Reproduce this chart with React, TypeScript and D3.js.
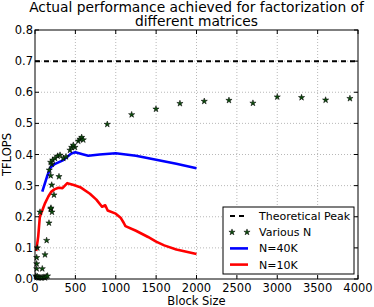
import * as d3 from "d3";

// N=40K curve: block size vs TFLOPS
const blueX = [90, 150, 194, 250, 351, 450, 500, 600, 660, 800, 1000, 1250, 1500, 1750, 2000];
const blueY = [0.281, 0.33, 0.359, 0.37, 0.382, 0.403, 0.407, 0.4, 0.396, 0.4, 0.404, 0.396, 0.383, 0.37, 0.356];

// N=10K curve
const redX = [15, 40, 60, 85, 125, 165, 200, 240, 290, 340, 400, 480, 560, 680, 760, 830, 870, 900, 1000, 1060, 1100, 1120, 1250, 1400, 1500, 1600, 1750, 2000];
const redY = [0.09, 0.137, 0.2, 0.217, 0.244, 0.265, 0.28, 0.288, 0.293, 0.292, 0.308, 0.302, 0.295, 0.274, 0.255, 0.232, 0.237, 0.22, 0.21, 0.197, 0.18, 0.17, 0.155, 0.135, 0.12, 0.108, 0.095, 0.08];

// Various N scatter
const starX = [
  10, 20, 30, 45, 60, 75, 90, 110, 125, 140, 155,
  21, 21, 21, 29, 90, 124, 144, 173, 62, 194, 210, 198, 235,
  207, 297, 194, 177, 207, 194, 219, 248, 281, 310, 351, 384,
  433, 454, 495, 474, 536, 557, 578, 598,
  895, 1197, 1498, 1795, 2096, 2402, 2699, 3000, 3301, 3599, 3900,
];
const starY = [
  0.01, 0.005, 0.008, 0.004, 0.005, 0.004, 0.005, 0.006, 0.004, 0.008, 0.01,
  0.033, 0.049, 0.069, 0.1, 0.033, 0.078, 0.124, 0.18, 0.215, 0.225, 0.215, 0.228, 0.27,
  0.302, 0.329, 0.332, 0.35, 0.369, 0.375, 0.382, 0.388, 0.395, 0.398, 0.388, 0.393,
  0.414, 0.423, 0.423, 0.43, 0.443, 0.449, 0.455, 0.447,
  0.497, 0.528, 0.546, 0.564, 0.571, 0.574, 0.565, 0.585, 0.583, 0.575, 0.58,
];

const peak = 0.7;
const xTicks = [0, 500, 1000, 1500, 2000, 2500, 3000, 3500, 4000];
const yTicks = [0, 0.1, 0.2, 0.3, 0.4, 0.5, 0.6, 0.7, 0.8];
const legendLabels = ["Theoretical Peak", "Various N", "N=40K", "N=10K"];

const App = () => {
  const width = 374;
  const height = 307;
  const margin = { top: 30, right: 16, bottom: 28, left: 35 };
  const innerWidth = width - margin.left - margin.right;
  const innerHeight = height - margin.top - margin.bottom;
  const font = "DejaVu Sans, sans-serif";

  const x = d3.scaleLinear().domain([0, 4000]).range([0, innerWidth]);
  const y = d3.scaleLinear().domain([0, 0.8]).range([innerHeight, 0]);

  const line = d3
    .line<[number, number]>()
    .x((d) => x(d[0]))
    .y((d) => y(d[1]));

  const blue = blueX.map((v, i) => [v, blueY[i]] as [number, number]);
  const red = redX.map((v, i) => [v, redY[i]] as [number, number]);
  const star = d3.symbol(d3.symbolStar, 12)()!;

  const lg = { x: 188, y: 177, w: 131, h: 67 };

  return (
    <svg
      width={width}
      height={height}
      style={{ position: "absolute", left: 0, top: 0, background: "#fff" }}
      fontFamily={font}
    >
      <text x={margin.left + innerWidth / 2} y={12} textAnchor="middle" fontSize={13.8}>
        Actual performance achieved for factorization of
      </text>
      <text x={margin.left + innerWidth / 2} y={26} textAnchor="middle" fontSize={13.8}>
        different matrices
      </text>
      <g transform={`translate(${margin.left},${margin.top})`}>
        {/* grid */}
        {xTicks.slice(1, -1).map((t) => (
          <line key={"gx" + t} x1={x(t)} x2={x(t)} y1={0} y2={innerHeight} stroke="#888" strokeWidth={0.6} strokeDasharray="1,2" />
        ))}
        {yTicks.slice(1, -1).map((t) => (
          <line key={"gy" + t} x1={0} x2={innerWidth} y1={y(t)} y2={y(t)} stroke="#888" strokeWidth={0.6} strokeDasharray="1,2" />
        ))}

        <line x1={x(0)} x2={x(4000)} y1={y(peak)} y2={y(peak)} stroke="#000" strokeWidth={2} strokeDasharray="5,4" />
        <path d={line(blue)!} fill="none" stroke="#0000ff" strokeWidth={2.6} strokeLinejoin="round" />
        <path d={line(red)!} fill="none" stroke="#ff0000" strokeWidth={2.6} strokeLinejoin="round" />
        {starX.map((v, i) => (
          <path
            key={"s" + i}
            d={star}
            transform={`translate(${x(v)},${y(starY[i])})`}
            fill="#0b4d0b"
            stroke="#000"
            strokeWidth={0.5}
          />
        ))}

        {/* ticks inward on all sides */}
        {xTicks.map((t) => (
          <g key={"tx" + t}>
            <line x1={x(t)} x2={x(t)} y1={innerHeight} y2={innerHeight - 4} stroke="#000" />
            <line x1={x(t)} x2={x(t)} y1={0} y2={4} stroke="#000" />
            <text x={x(t)} y={innerHeight + 13} textAnchor="middle" fontSize={11.5}>
              {t}
            </text>
          </g>
        ))}
        {yTicks.map((t) => (
          <g key={"ty" + t}>
            <line x1={0} x2={4} y1={y(t)} y2={y(t)} stroke="#000" />
            <line x1={innerWidth} x2={innerWidth - 4} y1={y(t)} y2={y(t)} stroke="#000" />
            <text x={-2} y={y(t) + 4} textAnchor="end" fontSize={11.5}>
              {t.toFixed(1)}
            </text>
          </g>
        ))}
        <rect x={0} y={0} width={innerWidth} height={innerHeight} fill="none" stroke="#000" strokeWidth={1} />

        {/* legend */}
        <g transform={`translate(${lg.x},${lg.y})`}>
          <rect x={0} y={0} width={lg.w} height={lg.h} fill="#fff" stroke="#000" strokeWidth={1} />
          {legendLabels.map((label, i) => {
            const cy = 9 + i * 16.2;
            return (
              <g key={label}>
                {i === 0 && (
                  <line x1={7} x2={25} y1={cy} y2={cy} stroke="#000" strokeWidth={2} strokeDasharray="5,4" />
                )}
                {i === 1 && (
                  <g>
                    <path d={star} transform={`translate(9,${cy})`} fill="#0b4d0b" stroke="#000" strokeWidth={0.5} />
                    <path d={star} transform={`translate(24,${cy})`} fill="#0b4d0b" stroke="#000" strokeWidth={0.5} />
                  </g>
                )}
                {i === 2 && <line x1={7} x2={25} y1={cy} y2={cy} stroke="#0000ff" strokeWidth={2.6} />}
                {i === 3 && <line x1={7} x2={25} y1={cy} y2={cy} stroke="#ff0000" strokeWidth={2.6} />}
                <text x={36} y={cy + 4} fontSize={11}>
                  {label}
                </text>
              </g>
            );
          })}
        </g>
      </g>
      <text x={margin.left + innerWidth / 2} y={305} textAnchor="middle" fontSize={11.5}>
        Block Size
      </text>
      <text
        transform={`translate(11,${margin.top + innerHeight / 2}) rotate(-90)`}
        textAnchor="middle"
        fontSize={11.5}
      >
        TFLOPS
      </text>
    </svg>
  );
};

export default App;
